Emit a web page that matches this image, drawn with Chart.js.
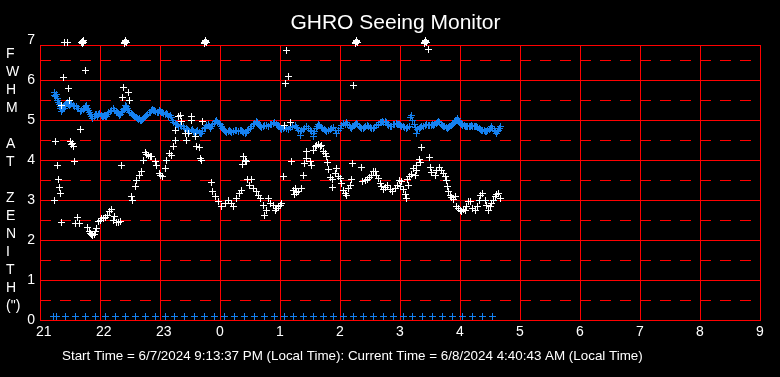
<!DOCTYPE html>
<html><head><meta charset="utf-8">
<script src="https://cdn.jsdelivr.net/npm/chart.js@4/dist/chart.umd.min.js"></script>
<style>html,body{margin:0;padding:0;background:#000;overflow:hidden}canvas{display:block}</style>
</head><body>
<canvas id="c" width="780" height="377"></canvas>
<script>
// ---- text ----
const titleText = 'GHRO Seeing Monitor';
const yTitleLines = ['F','W','H','M','','A','T','','Z','E','N','I','T','H','(")'];
const footerText = 'Start Time = 6/7/2024 9:13:37 PM (Local Time): Current Time = 6/8/2024 4:40:43 AM (Local Time)';

// ---- axes (x in minutes after 21:00) ----
const xTickValues = [0,60,120,180,240,300,360,420,480,540,600,660,720];
const xTickLabels = ['21','22','23','0','1','2','3','4','5','6','7','8','9'];
const yTickLabels = ['0','1','2','3','4','5','6','7'];

// ---- blue series (FWHM) ----
const blueMinutes = [14,15.5,17,18.5,20,21.7,23,25,26.7,28.5,30,33.3,36,38.5,41.7,44,46.7,48.5,50,51.7,54,56,58.3,61,63,65,67.5,70,73.3,76,78,80,82,84,86,88.5,91,93.3,96,98,100,102,104.5,106.7,109,111,113.3,115.5,118.3,120,122,125,127,130,132.5,135,137.5,140,143.3,146,148.5,151,153.3,156,159,161.7,164,166.7,169,171.7,174,176.7,179,181.7,183.5,185,188,190.5,193.3,196.5,200,202.5,205,207.5,210,213,216.7,218.5,220,223,226.7,230,233.3,236,238.3,240,243,246,250,255,257.5,260,260,263,266.7,270,273.3,273.3,276,278.3,281,284,286.7,290,293.3,296.7,300,303.3,306.7,309,311.7,314,316,319,321.7,324.5,327.3,330,333.3,336.5,340,342.5,345,347.5,350,353,356.7,358.5,360,363,366.7,369,370,371.7,374,376.7,379,381.7,385,388.3,391,393.3,396,398.3,401,403.3,406,408.3,411,413.3,415.5,417.3,419.5,421.7,424,426.7,429,431.7,434,436.7,439,441.7,444,446.7,449,451.7,454,456.7,458.5,460,
14.8,16.2,17.8,19.3,20.8,22.4,24,25.8,27.5,29.2,31.5,34.5,37,40,43,45.3,47.5,49.2,52.8,55,57.2,59.5,62,64,66.2,68.7,71.5,74.5,77,79,81,83,85,87.3,89.8,92,94.6,97,99,101,103.3,105.6,107.8,110,112.2,114.4,117,119.2,121,123.5,126,128.5,131.2,133.8,136.2,138.8,141.6,144.6,147.3,149.8,152.2,154.6,157.5,160.3,162.8,165.3,168,170.3,172.8,175.3,177.8,180.3,182.6,184.2,186.5,189.2,191.8,195,198.2,201.2,203.7,206.2,208.8,211.5,214.8,217.6,219.2,221.5,224.8,228.3,231.6,234.6,237.2,239.2,241.5,244.5,248,252.5,256.2,258.8,261.5,264.8,268.3,271.6,274.6,277.2,279.6,282.5,285.3,288.3,291.6,295,298.3,301.6,305,307.8,310.3,312.8,315,317.5,320.3,323,325.9,328.6,331.6,334.9,338.2,341.2,343.7,346.2,348.7,351.5,354.8,357.6,359.2,361.5,364.8,367.8,372.8,375.3,377.8,380.3,383.3,386.6,389.6,392.2,394.6,397.2,399.6,402.2,404.6,407.2,409.6,412.2,414.4,416.4,418.4,420.6,422.8,425.3,427.8,430.3,432.8,435.3,437.8,440.3,442.8,445.3,447.8,450.3,452.8,455.3,457.6,459.2];
const blueFwhm = [5.68,5.6,5.54,5.45,5.35,5.21,5.28,5.35,5.42,5.4,5.38,5.37,5.33,5.28,5.25,5.3,5.36,5.25,5.15,5.08,5.1,5.13,5.15,5.12,5.1,5.08,5.15,5.22,5.29,5.22,5.17,5.14,5.22,5.3,5.33,5.25,5.17,5.12,5.06,5.02,5.0,5.02,5.07,5.12,5.18,5.23,5.25,5.22,5.19,5.21,5.18,5.15,5.13,5.12,5.0,4.92,4.88,4.86,4.83,4.79,4.75,4.74,4.71,4.72,4.69,4.67,4.78,4.87,4.85,4.83,4.92,5.0,4.92,4.83,4.76,4.71,4.72,4.72,4.72,4.74,4.75,4.71,4.67,4.73,4.79,4.88,4.96,4.9,4.83,4.84,4.86,4.89,4.92,4.89,4.86,4.8,4.78,4.79,4.81,4.86,4.78,4.71,4.62,4.77,4.83,4.75,4.67,4.58,4.78,4.89,4.82,4.76,4.71,4.76,4.81,4.67,4.8,4.92,4.94,4.86,4.79,4.86,4.92,4.85,4.79,4.82,4.86,4.82,4.79,4.86,4.94,4.96,4.97,4.9,4.83,4.88,4.92,4.9,4.87,4.83,4.79,4.85,5.06,5.12,4.9,4.67,4.79,4.83,4.86,4.87,4.87,4.87,4.92,4.97,4.9,4.83,4.82,4.81,4.86,4.92,4.98,5.04,4.96,4.89,4.86,4.83,4.84,4.86,4.85,4.83,4.79,4.75,4.73,4.71,4.77,4.83,4.75,4.67,4.75,4.83,
5.62,5.63,5.5,5.38,5.3,5.26,5.3,5.4,5.45,5.36,5.41,5.34,5.3,5.22,5.27,5.33,5.3,5.2,5.05,5.14,5.1,5.16,5.08,5.12,5.1,5.19,5.25,5.24,5.2,5.12,5.18,5.27,5.36,5.3,5.2,5.14,5.08,5.04,5.03,4.98,5.05,5.1,5.15,5.2,5.27,5.24,5.2,5.23,5.2,5.16,5.16,5.1,5.06,4.95,4.9,4.84,4.85,4.8,4.77,4.72,4.76,4.7,4.73,4.66,4.72,4.82,4.88,4.8,4.88,4.96,4.95,4.88,4.8,4.74,4.69,4.74,4.7,4.75,4.72,4.73,4.69,4.7,4.76,4.83,4.92,4.93,4.86,4.81,4.87,4.84,4.9,4.94,4.86,4.84,4.77,4.82,4.76,4.83,4.82,4.74,4.74,4.8,4.8,4.72,4.72,4.84,4.86,4.79,4.73,4.74,4.79,4.74,4.74,4.86,4.9,4.9,4.82,4.83,4.89,4.88,4.82,4.8,4.84,4.84,4.8,4.82,4.9,4.95,4.93,4.94,4.86,4.85,4.9,4.88,4.9,4.85,4.81,4.82,5.0,4.82,4.77,4.81,4.84,4.88,4.86,4.9,4.89,4.95,4.94,4.86,4.83,4.8,4.84,4.89,4.95,5.0,5.0,4.92,4.87,4.85,4.85,4.85,4.84,4.85,4.81,4.77,4.74,4.72,4.74,4.8,4.79,4.71,4.72,4.8];

// ---- white series ----
const whiteMinutes = [24.3,27.7,41.5,42.7,43.5,42.2,43,84,85,86,84.6,85.4,164,165,166,164.6,165.4,315,316,317,315.6,316.4,384,385,386,384.6,385.4,388.3,
45,23.3,28.3,83.3,88.3,82.3,89.3,29.3,21.7,40,15,30,31.5,33.3,32,17.3,34.3,81,18.3,19.3,20.7,14.3,21.7,37.7,35,39.3,
47.7,49,50,51.5,52.7,54,55,56.5,58.3,60,61.7,63,65,67,69.3,71.7,73,74,76.7,78,80,
91.7,92.5,95,96.7,99.3,101.7,103.3,105,106.5,108.3,110,111.7,115,116.7,119.3,120,122.7,125,126,129.3,131.7,133.3,135,135,138,140,141.7,145,148,146.7,151.7,151.7,155,162.3,156.7,159.3,160,161.7,
171.7,172.7,175,178.3,181.7,185,188.3,191.7,193.3,196.7,199.3,201.7,203.3,205,202.7,206.7,207.3,211.7,209.3,213.3,216,218.3,220,223.3,224,226,228.3,230,233.3,236,238.3,240,235,241.7,
246.7,248.3,245,313.3,244,250,243.3,251.7,253.3,255,258.3,261.7,256.7,254,263.3,264,266.7,266.7,270,271.7,
273.3,275,276.7,278,280,281.7,283.3,285,286.7,287.3,288.3,290,292.7,295,296.7,298.3,300,301.7,292.7,303.3,305,306.7,308.3,310,311,312.3,321,
322.7,325,327.3,329.3,331.7,333.3,335,336.7,338.3,340,341.7,343.3,345,347.3,350,352.7,355,357.3,359.3,
381.7,389.3,379.3,380,376.7,373.3,376,371.7,369.3,367.3,375,361.7,360,363.3,365,366.7,368.3,390,
391.7,395,396.7,399.3,401.7,403.3,405,406.7,407.3,408.3,410,411.7,413.3,415,416.7,418.3,420,421.7,423.3,425,426.7,428.3,430,432.7,435,437.3,439.3,440.7,442.7,445,446.7,448.3,450,451.7,453.3,455,456.7,458.3,460];
const whiteFwhm = [6.95,6.95,6.94,6.96,6.95,6.92,6.98,6.94,6.96,6.95,6.92,6.98,6.94,6.96,6.95,6.92,6.98,6.94,6.96,6.95,6.92,6.98,6.94,6.96,6.95,6.92,6.98,6.77,
6.25,6.07,5.78,5.81,5.69,5.57,5.5,5.5,5.37,4.77,4.47,4.47,4.4,4.33,4.42,3.87,3.97,3.87,3.52,3.32,3.17,3.0,2.44,2.56,2.42,2.42,
2.31,2.22,2.17,2.14,2.12,2.15,2.21,2.3,2.46,2.5,2.54,2.55,2.56,2.62,2.72,2.77,2.5,2.58,2.44,2.45,2.47,
3.08,3.0,3.33,3.5,3.62,3.71,4.0,4.19,4.15,4.11,4.1,4.08,3.96,3.87,3.67,3.62,3.58,3.79,4.0,4.17,4.12,4.33,4.5,4.75,5.1,5.12,4.96,4.67,4.66,4.5,5.08,5.0,4.58,4.96,4.33,4.31,4.04,3.98,
3.44,3.21,3.08,2.96,2.83,2.92,3.0,2.92,2.83,3.04,3.17,3.25,4.08,4.0,3.89,3.96,3.52,3.52,3.37,3.29,3.21,3.12,3.04,2.87,2.62,2.75,3.04,2.92,2.87,2.79,2.83,2.87,2.75,2.92,
6.75,6.08,5.92,5.87,4.86,4.94,3.58,3.96,3.25,3.29,3.22,3.29,3.19,3.15,3.62,3.92,4.21,4.04,3.96,3.87,
4.25,4.33,4.37,4.4,4.33,4.37,4.21,4.17,4.08,3.94,3.77,3.56,3.52,3.67,3.79,3.58,3.54,3.42,3.31,3.25,3.17,3.12,3.29,3.37,3.52,3.92,3.82,
3.46,3.48,3.52,3.56,3.62,3.71,3.72,3.62,3.54,3.42,3.33,3.27,3.31,3.37,3.27,3.21,3.29,3.37,3.5,
4.32,4.07,4.02,3.94,3.87,3.79,3.75,3.64,3.58,3.52,3.62,3.46,3.33,3.27,3.14,3.04,3.37,3.81,
3.69,3.62,3.75,3.81,3.75,3.67,3.58,3.48,3.33,3.21,3.12,3.06,3.02,3.1,2.83,2.79,2.75,2.72,2.77,2.75,2.83,2.96,2.97,2.79,2.75,2.83,3.0,3.12,3.17,3.0,2.87,2.75,2.83,2.92,3.0,3.08,3.14,3.17,3.04];

// ---- blue marks along the bottom ----
const markMinutes = [13.3,16,25.9,35.8,45.7,55.6,65.5,75.4,85.4,95.3,105.2,115.1,125,134.9,144.8,154.8,164.7,174.6,184.5,194.4,204.3,214.2,224.2,234.1,244,253.9,263.8,273.7,283.6,293.6,303.5,313.4,323.3,333.2,343.1,353,363,372.9,382.8,392.7,402.6,412.5,422.4,432.4,442.3,452.2];
const markLevel = markMinutes.map(() => 0.08);

const BLUE = '#1581f0';
const RED = '#ff0000';
const FONT = '"Liberation Sans", Arial, sans-serif';

const pts = (xs, ys) => xs.map((x, i) => ({x, y: ys[i]}));

// crisp pixel cross used as point style
function crossImage(color, size) {
  const c = document.createElement('canvas');
  c.width = size; c.height = size;
  const g = c.getContext('2d');
  g.fillStyle = color;
  const m = Math.floor(size / 2);
  g.fillRect(0, m, size, 1);
  g.fillRect(m, 0, 1, size);
  return c;
}
const whiteCross = crossImage('#ffffff', 7);
const blueCross = crossImage(BLUE, 7);

const gridPlugin = {
  id: 'ghroGrid',
  beforeDraw(chart) {
    const ctx = chart.ctx;
    ctx.save();
    ctx.fillStyle = '#000';
    ctx.fillRect(0, 0, chart.width, chart.height);
    ctx.restore();
  },
  beforeDatasetsDraw(chart) {
    const ctx = chart.ctx, xs = chart.scales.x, ys = chart.scales.y;
    const snap = v => Math.round(v) + 0.5;
    const left = snap(xs.getPixelForValue(xTickValues[0]));
    const right = snap(xs.getPixelForValue(xTickValues[xTickValues.length - 1]));
    const top = snap(ys.getPixelForValue(6.875));
    const bottom = snap(ys.getPixelForValue(0));
    ctx.save();
    ctx.strokeStyle = RED;
    ctx.lineWidth = 1;
    ctx.setLineDash([11, 9]);
    for (let v = 0.5; v < 7; v += 1) {
      const y = snap(ys.getPixelForValue(v));
      ctx.beginPath(); ctx.moveTo(left - 0.5, y); ctx.lineTo(right, y); ctx.stroke();
    }
    ctx.setLineDash([]);
    const hs = [0,1,2,3,4,5,6];
    ctx.beginPath();
    hs.forEach(v => { const y = snap(ys.getPixelForValue(v)); ctx.moveTo(left - 0.5, y); ctx.lineTo(right + 0.5, y); });
    ctx.moveTo(left - 0.5, top); ctx.lineTo(right + 0.5, top);
    xTickValues.forEach(v => { const x = snap(xs.getPixelForValue(v)); ctx.moveTo(x, top); ctx.lineTo(x, bottom + 0.5); });
    ctx.stroke();
    ctx.restore();
    ctx.imageSmoothingEnabled = false;
  },
  afterDraw(chart) {
    const ctx = chart.ctx;
    ctx.save();
    ctx.fillStyle = '#fff';
    ctx.textBaseline = 'alphabetic';
    ctx.font = '21px ' + FONT;
    ctx.textAlign = 'center';
    ctx.fillText(titleText, 395.5, 29);
    ctx.font = '14px ' + FONT;
    ctx.textAlign = 'left';
    yTitleLines.forEach((s, i) => { if (s) ctx.fillText(s, 6, 58.3 + 18 * i); });
    ctx.font = '13.4px ' + FONT;
    ctx.fillText(footerText, 62, 360);
    ctx.restore();
  }
};

new Chart(document.getElementById('c'), {
  type: 'scatter',
  data: {
    datasets: [
      { label: 'white', data: pts(whiteMinutes, whiteFwhm), pointStyle: whiteCross, pointRadius: 3.5, borderWidth: 0, showLine: false, clip: false },
      { label: 'fwhm', data: pts(blueMinutes, blueFwhm), pointStyle: blueCross, pointRadius: 3.5, borderWidth: 0, showLine: false, clip: false },
      { label: 'marks', data: pts(markMinutes, markLevel), pointStyle: blueCross, pointRadius: 3.5, borderWidth: 0, showLine: false, clip: false }
    ]
  },
  options: {
    responsive: false,
    animation: false,
    devicePixelRatio: 1,
    layout: { padding: { top: 40, right: 20, left: 0, bottom: 0 } },
    plugins: { legend: { display: false }, tooltip: { enabled: false }, title: { display: false } },
    events: [],
    scales: {
      x: {
        type: 'linear', min: 0, max: 720,
        afterFit: s => { s.height = 57; },
        afterBuildTicks: s => { s.ticks = xTickValues.map(v => ({ value: v })); },
        grid: { display: false, drawTicks: false },
        border: { display: false },
        ticks: { color: '#fff', font: { family: FONT, size: 14 }, padding: 4, align: 'start', labelOffset: -4, autoSkip: false, maxRotation: 0,
          callback: (v) => xTickLabels[xTickValues.indexOf(v)] }
      },
      y: {
        type: 'linear', min: 0, max: 7,
        afterFit: s => { s.width = 40; },
        grid: { display: false, drawTicks: false },
        border: { display: false },
        ticks: { color: '#fff', font: { family: FONT, size: 14 }, padding: 5, stepSize: 1,
          callback: (v) => yTickLabels[v] }
      }
    }
  },
  plugins: [gridPlugin]
});
</script>
</body></html>
